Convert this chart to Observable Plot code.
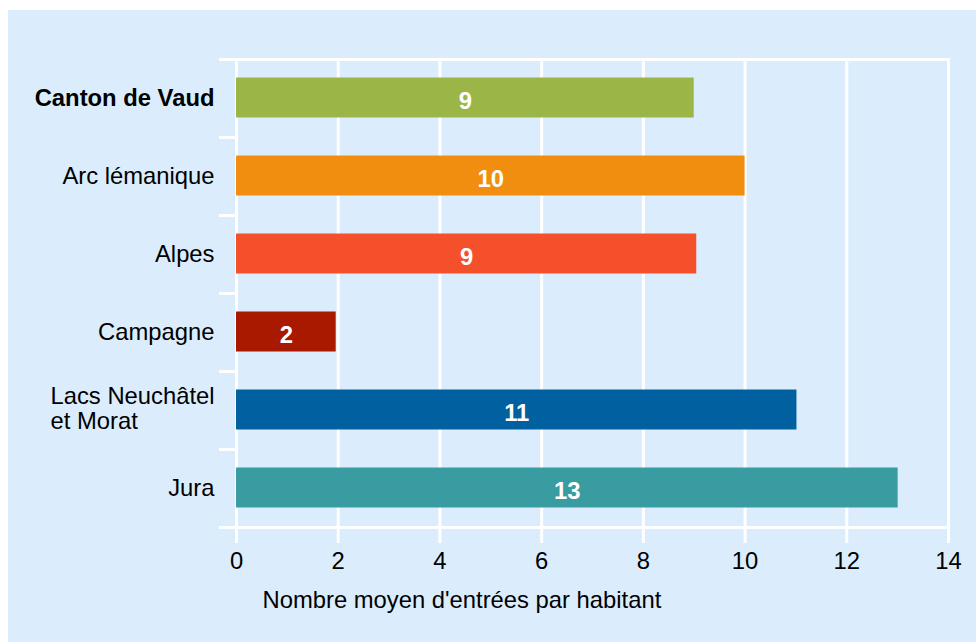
<!DOCTYPE html>
<html>
<head>
<meta charset="utf-8">
<script src="https://cdn.jsdelivr.net/npm/d3@7"></script>
<script src="https://cdn.jsdelivr.net/npm/@observablehq/plot@0.6"></script>
<style>
  html, body { margin: 0; padding: 0; background: #ffffff; }
  #wrap { padding: 10px 0 0 8px; }
  svg { display: block; }
</style>
</head>
<body>
<div id="wrap"></div>
<script>
const categories = ["Canton de Vaud", "Arc lémanique", "Alpes", "Campagne", "Lacs Neuchâtel\net Morat", "Jura"];
const values = [9.0, 10.0, 9.05, 1.96, 11.02, 13.01];
const valueLabels = ["9", "10", "9", "2", "11", "13"];
const colors = ["#9bb646", "#f18e0f", "#f3502b", "#a81900", "#0060a0", "#389ca1"];
const xTicks = [0, 2, 4, 6, 8, 10, 12, 14];
const xLabel = "Nombre moyen d'entrées par habitant";

const data = categories.map((c, i) => ({region: c, value: values[i], label: valueLabels[i], color: colors[i]}));

const normalCats = [categories[1], categories[2], categories[3], categories[5]];
const last = categories[categories.length - 1];

const chart = Plot.plot({
  width: 968,
  height: 632,
  marginLeft: 228,
  marginTop: 49,
  marginRight: 28,
  marginBottom: 115,
  style: {background: "#dbedfd", fontFamily: "'Liberation Sans', Arial, sans-serif", fontSize: "23.8px", color: "#000"},
  x: {domain: [0, 14], ticks: xTicks},
  y: {domain: categories, padding: 0, axis: null},
  marks: [
    Plot.gridX(xTicks, {stroke: "white", strokeOpacity: 1, strokeWidth: 3}),
    Plot.axisX(xTicks, {tickSize: 16, stroke: "white", strokeWidth: 3, fill: "black", tickPadding: 9, label: null}),
    Plot.frame({stroke: "white", strokeWidth: 3}),
    Plot.ruleY(categories, {y: d => d, dy: -39, x1: 0, x2: 0, insetLeft: -17, stroke: "white", strokeWidth: 3}),
    Plot.ruleY([last], {y: d => d, dy: 39, x1: 0, x2: 0, insetLeft: -17, stroke: "white", strokeWidth: 3}),
    Plot.barX(data, {x: "value", y: "region", fill: "color", insetTop: 18.5, insetBottom: 19.5}),
    Plot.text(data, {x: d => d.value / 2, y: "region", text: "label", fill: "white", fontWeight: "bold", dy: 3}),
    Plot.text([categories[0]], {y: d => d, frameAnchor: "left", dx: -22, textAnchor: "end", fontWeight: "bold", fill: "black"}),
    Plot.text(normalCats, {y: d => d, frameAnchor: "left", dx: -22, textAnchor: "end", fill: "black"}),
    Plot.text([categories[4]], {y: d => d, frameAnchor: "left", dx: -186, dy: -2, textAnchor: "start", lineHeight: 1.05, fill: "black"}),
    Plot.text([xLabel], {frameAnchor: "bottom-left", lineAnchor: "middle", textAnchor: "start", dx: 26, dy: 73, fill: "black"})
  ]
});

document.getElementById("wrap").appendChild(chart);
</script>
</body>
</html>
